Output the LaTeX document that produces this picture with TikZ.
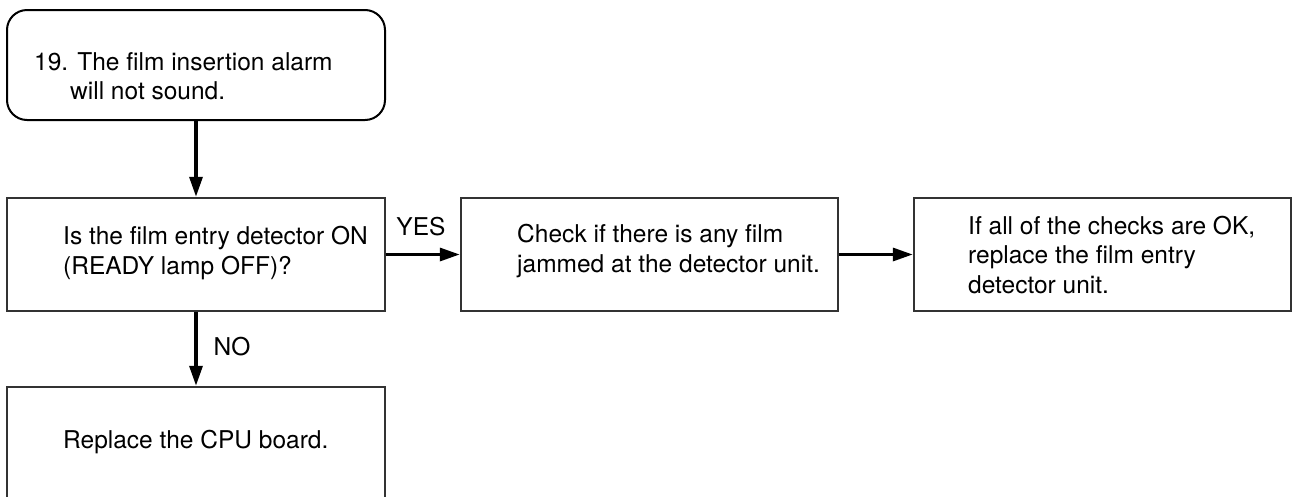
\documentclass[tikz,border=0pt]{standalone}
\usepackage{fontspec}
\setmainfont{TeX Gyre Heros}
\usetikzlibrary{arrows.meta,calc}
\begin{document}
\begin{tikzpicture}[x=1pt,y=-1pt,
  box/.style={draw=black!80,line width=1.3pt,inner sep=0pt,minimum width=378pt,minimum height=113pt},
  startbox/.style={box,draw=black,line width=2pt,rounded corners=20pt,minimum height=110pt},
  txt/.style={align=left,inner sep=0pt,font=\fontsize{24.5}{29.5}\selectfont,anchor=west},
  lbl/.style={inner sep=0pt,font=\fontsize{24.5}{29.5}\selectfont},
  arr/.style={line width=3.3pt,-{Triangle[length=20pt,width=13pt]},shorten >=0.6pt}]
\useasboundingbox (0,0) rectangle (1292,496);
\clip (0,0) rectangle (1292,496);
% boxes
\node[startbox] (b1) at (196,65) {};
\node[box] (b2) at (196,254.5) {};
\node[box,minimum width=377pt] (b3) at (649.5,254.5) {};
\node[box,minimum width=377pt] (b4) at (1102.5,254.5) {};
\node[box,minimum height=111pt] (b5) at (196,442.5) {};
% texts
\node[txt] (t1) at (34,76) {19. The film insertion alarm\\\hspace*{36pt}will not sound.};
\node[txt] (t2) at (63,253) {Is the film entry detector ON\\(READY lamp OFF)?};
\node[txt] (t3) at (517,251) {Check if there is any film\\jammed at the detector unit.};
\node[txt] (t4) at (968,255) {If all of the checks are OK,\\replace the film entry\\detector unit.};
\node[txt] (t5) at (63,442) {Replace the CPU board.};
% connectors
\draw[arr] (b1.south) -- (b2.north);
\draw[arr] (b2.east) -- (b3.west);
\draw[arr] (b3.east) -- (b4.west);
\draw[arr] (b2.south) -- (b5.north);
\node[lbl] (yes) at (421,227) {YES};
\node[lbl] (no) at (232,347) {NO};
\end{tikzpicture}
\end{document}
